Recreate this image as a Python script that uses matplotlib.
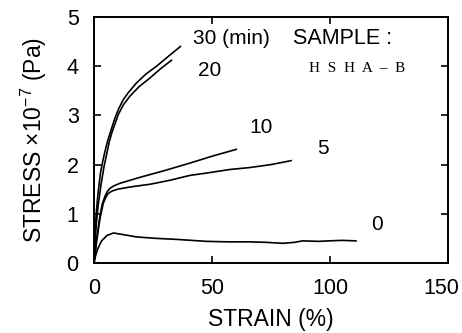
import matplotlib
matplotlib.use("Agg")
import matplotlib.pyplot as plt
from matplotlib.transforms import ScaledTranslation

plt.rcParams['font.family'] = ['Liberation Sans', 'DejaVu Sans']
plt.rcParams['mathtext.default'] = 'regular'

# ---- data ----
strain_30 = [0, 0.3, 1.0, 1.7, 2.8, 3.8, 4.6, 5.7, 6.8, 8.9, 10.5, 12.4, 14.5, 18.0,
             22.0, 26.5, 31.0, 36.6]
stress_30 = [0, 0.55, 1.05, 1.42, 1.85, 2.09, 2.26, 2.47, 2.64, 2.95, 3.14, 3.32, 3.46,
             3.66, 3.84, 4.00, 4.18, 4.40]

strain_20 = [0, 0.4, 1.0, 1.7, 3.0, 4.2, 5.4, 6.4, 7.5, 10.3, 12.5, 15.2, 19.0, 23.7,
             28.0, 32.8]
stress_20 = [0, 0.40, 0.80, 1.15, 1.60, 1.95, 2.22, 2.45, 2.64, 3.02, 3.22, 3.39, 3.58,
             3.76, 3.94, 4.12]

strain_10 = [0, 1.0, 2.5, 3.5, 4.6, 5.6, 6.8, 8.5, 11.0, 19.4, 30.0, 40.6, 50.0, 60.3]
stress_10 = [0, 0.45, 0.95, 1.20, 1.35, 1.45, 1.52, 1.57, 1.62, 1.74, 1.88, 2.03, 2.17, 2.31]

strain_5 = [0, 1.0, 2.5, 3.9, 5.0, 6.0, 7.5, 10, 16, 23.7, 32, 40.6, 48, 57.5, 66, 75, 83.5]
stress_5 = [0, 0.40, 0.90, 1.21, 1.34, 1.41, 1.46, 1.50, 1.55, 1.60, 1.68, 1.78, 1.83,
            1.90, 1.94, 2.00, 2.08]

strain_0 = [0, 0.5, 1.5, 3.2, 5.5, 8.2, 12, 18, 26.5, 35, 47.6, 57, 65.9, 73, 80, 85,
            88.4, 95, 99.7, 105, 111]
stress_0 = [0, 0.12, 0.28, 0.45, 0.56, 0.61, 0.58, 0.53, 0.50, 0.48, 0.44, 0.43, 0.43,
            0.42, 0.40, 0.42, 0.45, 0.44, 0.45, 0.46, 0.45]

curves = [(strain_30, stress_30), (strain_20, stress_20), (strain_10, stress_10),
          (strain_5, stress_5), (strain_0, stress_0)]

x_ticks = [0, 50, 100, 150]
y_ticks = [0, 1, 2, 3, 4, 5]

# ---- figure ----
fig = plt.figure(figsize=(4.62, 3.33), dpi=100)
ax = fig.add_axes([0.2035, 0.2102, 0.7662, 0.7388])

for xs, ys in curves:
    ax.plot(xs, ys, color='black', lw=1.2, solid_joinstyle='round')

ax.set_xlim(0, 150)
ax.set_ylim(0, 5)
ax.set_xticks(x_ticks)
ax.set_yticks(y_ticks)
ax.tick_params(direction='in', length=5, width=1.2, top=True, right=True,
               labelsize=15.5)
ax.tick_params(axis='x', pad=11)
ax.tick_params(axis='y', pad=11)
for s in ax.spines.values():
    s.set_linewidth(1.4)

# keep the last x tick label inside the figure
last = ax.get_xticklabels()[-1]
last.set_transform(last.get_transform() + ScaledTranslation(-5 / 72, 0, fig.dpi_scale_trans))

ax.set_xlabel('STRAIN (%)', fontsize=16.5, labelpad=6.5)
ax.set_ylabel('STRESS \u00d710$^{-7}$ (Pa)', fontsize=16.5, labelpad=13)

# curve labels
fs = 15
ax.text(41.8, 4.57, '30 (min)', fontsize=fs, va='center', ha='left')
ax.text(43.9, 3.92, '20', fontsize=fs, va='center', ha='left')
ax.text(70.6, 2.75, '10', fontsize=fs, va='center', ha='center')
ax.text(97.0, 2.32, '5', fontsize=fs, va='center', ha='center')
ax.text(119.8, 0.79, '0', fontsize=fs, va='center', ha='center')
ax.text(84.2, 4.57, 'SAMPLE :', fontsize=15.5, va='center', ha='left')
ax.text(91.0, 3.96, 'H  S  H  A  \u2013  B', fontsize=11, va='center', ha='left',
        family=['Liberation Serif', 'DejaVu Serif'])

fig.savefig('out.png', dpi=100)
